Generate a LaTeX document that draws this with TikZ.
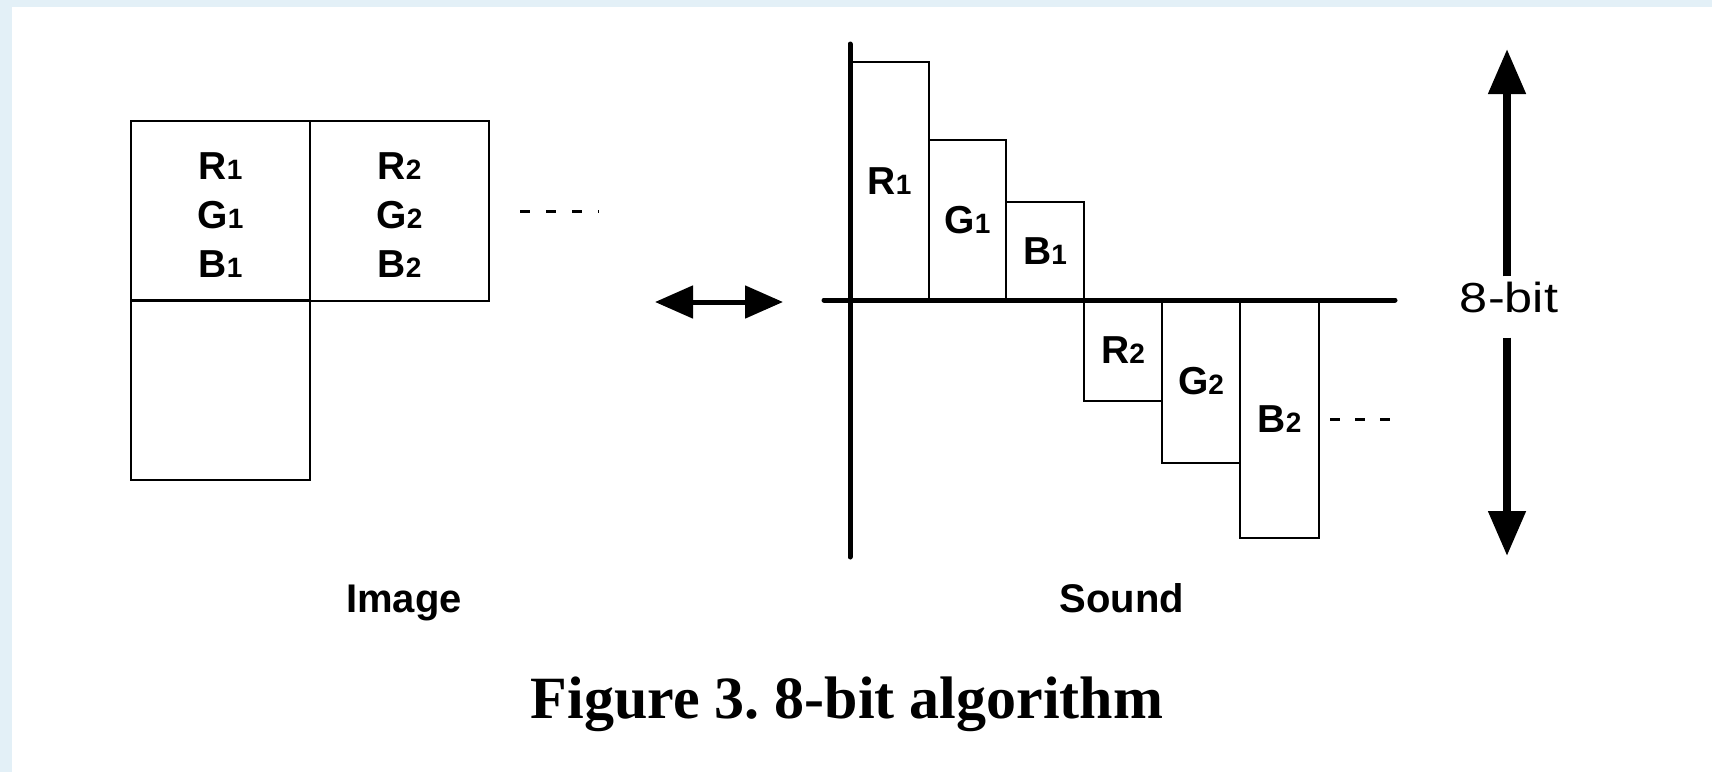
\documentclass[tikz,border=0pt]{standalone}
\usepackage{fontspec}
\setmainfont{Liberation Sans}
\newfontfamily\capfont{Liberation Serif}
\newfontfamily\widefont[FakeStretch=1.2]{Liberation Sans}
\usetikzlibrary{arrows.meta}
\definecolor{bgblue}{HTML}{E3F0F7}
\newcommand\sbn[1]{{\fontsize{28}{28}\selectfont #1}}
\frenchspacing
\begin{document}
\begin{tikzpicture}[x=1pt,y=-1pt,
  cell/.style={draw, line width=2.6pt, minimum width=179pt, minimum height=180pt, inner sep=0pt},
  celltext/.style={inner sep=0pt, font=\fontsize{39}{49}\selectfont\bfseries, align=center},
  bar/.style={draw, line width=2pt, inner sep=0pt, font=\fontsize{39}{49}\selectfont\bfseries},
  axis/.style={line width=5pt, line cap=round},
  dashline/.style={line width=3pt, dash pattern=on 10pt off 16pt},
  dashline2/.style={line width=3pt, dash pattern=on 10pt off 15pt},
  harrow/.style={line width=5pt, {Triangle[length=38pt,width=32pt]}-{Triangle[length=38pt,width=32pt]}},
  varrow/.style={line width=8pt, -{Triangle[length=45pt,width=36pt]}},
  lbl/.style={font=\fontsize{40}{40}\selectfont\bfseries, inner sep=0pt, anchor=base}
]
\useasboundingbox (0,0) rectangle (1712,772);
\fill[bgblue] (0,0) rectangle (1712,772);
\fill[white] (12,7) rectangle (1712,772);

% Image grid
\node[cell] (c11) at (220.5,211) {};
\node[cell] (c12) at (399.5,211) {};
\node[cell] (c21) at (220.5,390) {};
\node[celltext] (t11) at ([yshift=-4pt]c11.center) {R\sbn1\\G\sbn1\\B\sbn1};
\node[celltext] (t12) at ([yshift=-4pt]c12.center) {R\sbn2\\G\sbn2\\B\sbn2};
\draw[dashline] ([xshift=30pt]c12.east) -- ++(79,0);

% double arrow
\coordinate (la) at (655,302);
\coordinate (ra) at (783,302);
\draw[harrow] (la) -- (ra);

% bars
\node[bar, minimum width=79pt, minimum height=238pt] (r1) at (889.5,181) {R\sbn1};
\node[bar, minimum width=77pt, minimum height=160pt] (g1) at (967.5,220) {G\sbn1};
\node[bar, minimum width=78pt, minimum height=98pt] (b1) at (1045,251) {B\sbn1};
\node[bar, minimum width=78pt, minimum height=101pt] (r2) at (1123,350.5) {R\sbn2};
\node[bar, minimum width=78pt, minimum height=163pt] (g2) at (1201,381.5) {G\sbn2};
\node[bar, minimum width=79pt, minimum height=238pt] (b2) at (1279.5,419) {B\sbn2};
\draw[dashline2] ([xshift=10pt]b2.east) -- ++(60,0);

% axes
\coordinate (yt) at (850,44);
\coordinate (yb) at (850,557);
\coordinate (xl) at (824,300);
\coordinate (xr) at (1395,300);
\draw[axis] (yt) -- (yb);
\draw[axis] (xl) -- (xr);

% 8-bit
\node[font=\widefont\fontsize{42}{42}\selectfont, inner sep=0pt] (bit) at (1509,297) {8-bit};
\coordinate (ut) at (1507,49);
\coordinate (dt) at (1507,556);
\draw[varrow] ([yshift=5pt]bit.north -| ut) -- (ut);
\draw[varrow] ([yshift=-25pt]bit.south -| dt) -- (dt);

% labels
\node[lbl] (img) at (404,612) {Image};
\node[lbl] (snd) at (1122,612) {Sound};
\node[font=\capfont\bfseries\fontsize{60}{60}\selectfont, inner sep=0pt] (cap) at (847,704) {Figure 3. 8-bit algorithm};
\end{tikzpicture}
\end{document}
